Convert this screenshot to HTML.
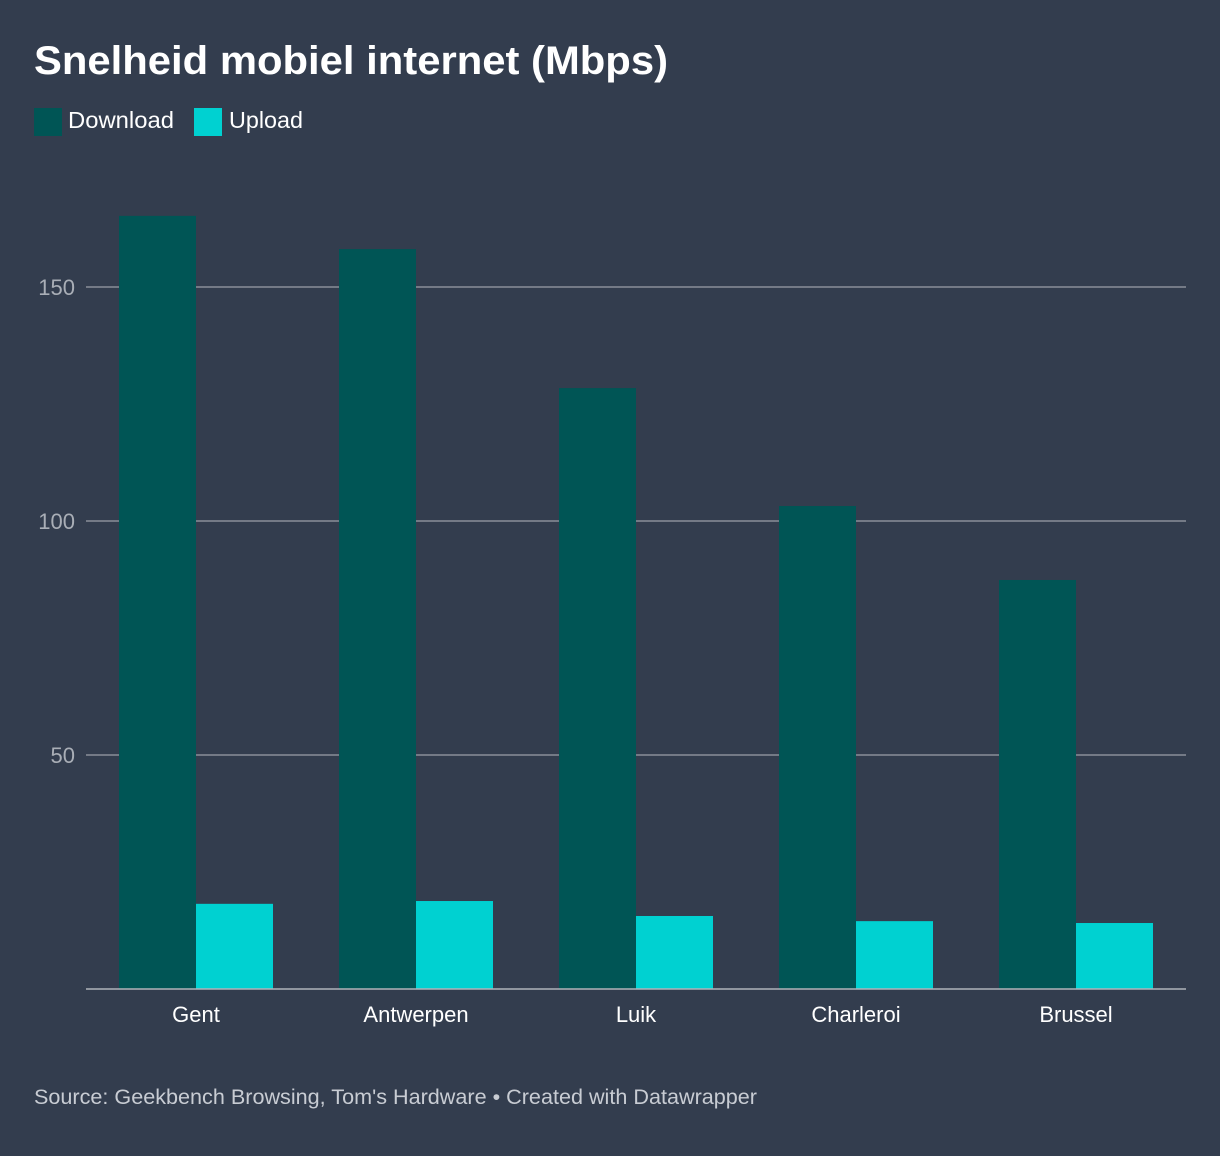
<!DOCTYPE html>
<html><head><meta charset="utf-8">
<style>
html,body{margin:0;padding:0;background:#333d4e;width:1220px;height:1156px;overflow:hidden;font-family:"Liberation Sans",sans-serif;}
</style></head>
<body>
<svg width="1220" height="1156" xmlns="http://www.w3.org/2000/svg">
<rect width="1220" height="1156" fill="#333d4e"/>
<text x="34" y="74" font-size="40" font-weight="bold" fill="#ffffff" textLength="634" lengthAdjust="spacingAndGlyphs">Snelheid mobiel internet (Mbps)</text>
<g>
<rect x="34" y="108" width="28" height="28" fill="#005555"/>
<text x="68" y="128" font-size="23" fill="#ffffff" textLength="106" lengthAdjust="spacingAndGlyphs">Download</text>
<rect x="194" y="108" width="28" height="28" fill="#00d1d1"/>
<text x="229" y="128" font-size="23" fill="#ffffff" textLength="74" lengthAdjust="spacingAndGlyphs">Upload</text>
</g>
<g id="grid"></g>
<g id="bars"></g>
<g id="xlabels"></g>
<text x="34" y="1104" font-size="21" fill="#c8ccd3" textLength="723" lengthAdjust="spacingAndGlyphs">Source: Geekbench Browsing, Tom's Hardware • Created with Datawrapper</text>
</svg>
<script>
const categories = ["Gent","Antwerpen","Luik","Charleroi","Brussel"];
const download = [165.2,158.1,128.4,103.2,87.4];
const upload = [18.2,18.8,15.6,14.5,14.1];
const yTicks = [50,100,150];

const NS="http://www.w3.org/2000/svg";
const x0=86,x1=1186,yBase=989,pxPerUnit=234/50;
const groupW=(x1-x0)/categories.length,barW=77;
function y(v){return yBase-v*pxPerUnit;}
function gx(i){return x0+groupW*i+groupW/2;}
function mk(tag,attrs,parent){const e=document.createElementNS(NS,tag);for(const k in attrs)e.setAttribute(k,attrs[k]);parent.appendChild(e);return e;}

const grid=document.getElementById('grid');
yTicks.forEach(t=>{
  const l=mk('line',{x1:x0,x2:x1,y1:y(t),y2:y(t),stroke:'#8a8f98','stroke-width':1.5},grid);
  
  
  const tx=mk('text',{x:75,y:y(t)+8,'font-size':22,fill:'#a9aeb6','text-anchor':'end'},grid);
  tx.textContent=t;
  
  
});

const bars=document.getElementById('bars');
categories.forEach((c,i)=>{
  const cx=gx(i);
  const d=mk('rect',{x:cx-barW,y:y(download[i]),width:barW,height:download[i]*pxPerUnit,fill:'#005555'},bars);
  
  
  const u=mk('rect',{x:cx,y:y(upload[i]),width:barW,height:upload[i]*pxPerUnit,fill:'#00d1d1'},bars);
  
  
  const t=mk('text',{x:cx,y:1022,'font-size':22,fill:'#ffffff','text-anchor':'middle'},document.getElementById('xlabels'));
  t.textContent=c;
  
  
});
const ax=mk('line',{x1:x0,x2:x1,y1:yBase,y2:yBase,stroke:'#b0b4ba','stroke-width':1.5},bars);


</script>
</body></html>
